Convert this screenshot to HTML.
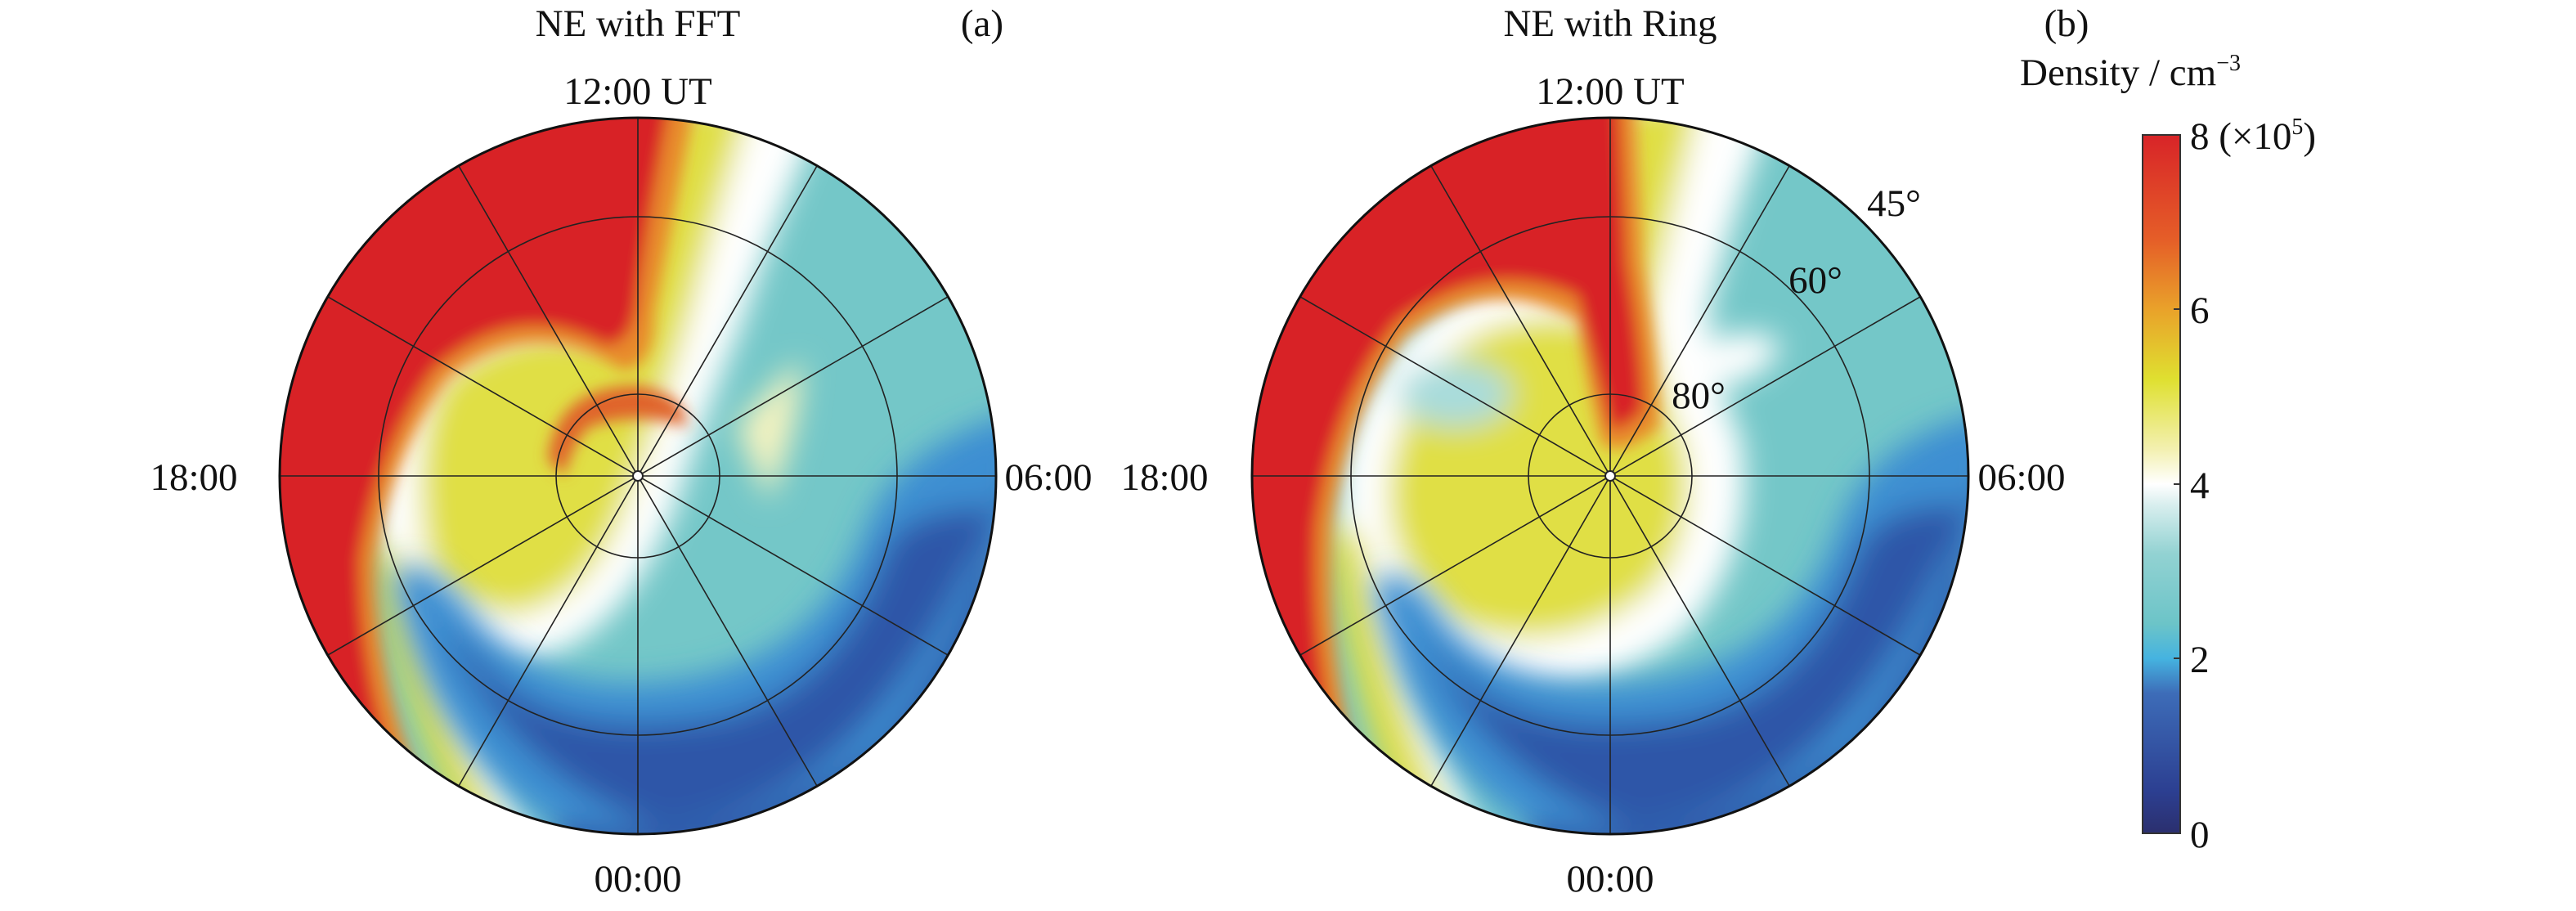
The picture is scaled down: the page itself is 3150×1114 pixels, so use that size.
<!DOCTYPE html>
<html><head><meta charset="utf-8"><style>
html,body{margin:0;padding:0;background:#fff;}
svg{display:block;}
text{font-family:"Liberation Serif",serif;fill:#111;}
</style></head><body>
<svg width="3150" height="1114" viewBox="0 0 3150 1114" xmlns="http://www.w3.org/2000/svg">
<defs>
<filter id="b" x="-20%" y="-20%" width="140%" height="140%"><feGaussianBlur stdDeviation="18"/></filter>
<filter id="b2" x="-20%" y="-20%" width="140%" height="140%"><feGaussianBlur stdDeviation="9"/></filter>
<clipPath id="cc"><circle cx="0" cy="0" r="438"/></clipPath>
<linearGradient id="cb" x1="0" y1="1" x2="0" y2="0">
<stop offset="0" stop-color="#2b2f6e"/>
<stop offset="0.06" stop-color="#2c3f91"/>
<stop offset="0.2" stop-color="#3d6cb8"/>
<stop offset="0.25" stop-color="#45b3e0"/>
<stop offset="0.3" stop-color="#6cc4c8"/>
<stop offset="0.4" stop-color="#92d2d2"/>
<stop offset="0.47" stop-color="#d8eeee"/>
<stop offset="0.5" stop-color="#ffffff"/>
<stop offset="0.55" stop-color="#f3f0b0"/>
<stop offset="0.65" stop-color="#dfe030"/>
<stop offset="0.75" stop-color="#e9a22a"/>
<stop offset="0.85" stop-color="#e55e28"/>
<stop offset="1" stop-color="#d82428"/>
</linearGradient>
</defs>

<!-- Panel a -->
<g transform="translate(780,582)">
<g clip-path="url(#cc)">
<rect x="-460" y="-460" width="920" height="920" fill="#74c7c8"/>
<g filter="url(#b)">
<path d="M -40 -460 L 200 -460 Q 130 -300 100 -200 Q 50 -80 20 20 Q -40 180 -150 200 Q -270 190 -290 100 Q -310 -60 -250 -140 Q -150 -220 -40 -180 Z" fill="#ffffff" stroke="#ffffff" stroke-width="60"/>
<path d="M -40 -460 L 140 -460 Q 90 -300 65 -200 Q 30 -80 -10 20 Q -50 150 -150 170 Q -250 160 -260 90 Q -280 -50 -240 -120 Q -150 -200 -40 -170 Z" fill="#e0df45"/>
<path d="M -330 80 Q -300 250 -180 460 L -120 460 Q -220 260 -260 120 Z" fill="#ffffff"/>
<path d="M -330 60 Q -310 250 -200 460 L -150 460 Q -250 260 -290 100 Z" fill="#e0df45"/>
<path d="M 120 -60 Q 180 -130 200 -140 Q 200 -60 160 30 Z" fill="#f4f3c0"/>
</g>
<g filter="url(#b2)">
<path d="M -460 -460 L 70 -460 Q 40 -300 20 -200 Q 20 -130 -20 -130 Q -130 -200 -230 -120 Q -300 -30 -320 100 Q -320 300 -220 460 L -460 460 Z" fill="#e88a2a"/>
<path d="M -460 -460 L 40 -460 Q 10 -300 0 -220 Q -5 -160 -40 -160 Q -150 -220 -250 -130 Q -320 -30 -340 100 Q -340 300 -250 460 L -460 460 Z" fill="#d82428"/>
<path d="M -110 -20 Q -100 -110 0 -110 Q 60 -100 60 -60 Q 0 -80 -60 -60 Q -80 -40 -90 0 Z" fill="#e0642a"/>
</g>
<g filter="url(#b)">
<path d="M -300 120 Q -250 380 -20 470 Q 300 470 470 60 L 470 -80 Q 320 -40 280 60 Q 220 230 40 250 Q -120 270 -200 170 Q -260 90 -300 120 Z" fill="#3e8fd2"/>
<path d="M -240 180 Q -160 360 20 430 Q 250 420 400 120 Q 460 20 470 -30 L 470 40 Q 320 30 300 100 Q 230 290 60 300 Q -120 320 -200 220 Z" fill="#2f56a8"/>
<path d="M -100 420 Q 100 470 300 330 Q 400 200 440 60 L 470 470 L -100 470 Z" fill="#2f56a8"/>
</g>
</g>
<g fill="none" stroke="#222" stroke-width="1.6">
<circle r="100"/><circle r="317"/>
<line x1="0" y1="-438" x2="0" y2="438"/>
<line x1="-438" y1="0" x2="438" y2="0"/>
<line x1="-219" y1="-379" x2="219" y2="379"/>
<line x1="219" y1="-379" x2="-219" y2="379"/>
<line x1="-379" y1="-219" x2="379" y2="219"/>
<line x1="379" y1="-219" x2="-379" y2="219"/>
</g>
<circle r="438" fill="none" stroke="#111" stroke-width="3"/>
<circle r="6" fill="#fff" stroke="#222" stroke-width="2"/>
</g>
<g font-size="47" text-anchor="middle">
<text x="780" y="44">NE with FFT</text>
<text x="1201" y="44">(a)</text>
<text x="780" y="127">12:00 UT</text>
<text x="237" y="599">18:00</text>
<text x="1282" y="599">06:00</text>
<text x="780" y="1090">00:00</text>
</g>

<!-- Panel b -->
<g transform="translate(1969,582)">
<g clip-path="url(#cc)">
<rect x="-460" y="-460" width="920" height="920" fill="#74c7c8"/>
<g filter="url(#b)">
<path d="M 0 -460 L 170 -460 Q 110 -300 90 -200 Q 100 -100 130 -40 Q 150 80 70 170 Q -60 270 -200 210 Q -310 120 -300 0 Q -280 -140 -150 -210 Q -60 -240 0 -210 Z" fill="#ffffff" stroke="#ffffff" stroke-width="60"/>
<path d="M 0 -460 L 110 -460 Q 70 -300 50 -200 Q 60 -100 90 -40 Q 110 70 50 140 Q -60 230 -190 180 Q -280 110 -270 0 Q -250 -130 -150 -180 Q -60 -210 0 -180 Z" fill="#e0df45"/>
<ellipse cx="-190" cy="-100" rx="70" ry="40" fill="#a8dcdc"/>
<path d="M -350 60 Q -320 260 -220 460 L -150 460 Q -240 260 -280 100 Z" fill="#ffffff"/>
<path d="M -350 40 Q -330 250 -240 460 L -180 460 Q -270 260 -300 80 Z" fill="#e0df45"/>
<path d="M 120 -160 Q 170 -190 210 -160 Q 190 -120 140 -110 Z" fill="#ffffff"/>
</g>
<g filter="url(#b2)">
<path d="M -460 -460 L 30 -460 L 40 -260 Q 60 -140 60 -60 Q 10 -20 -10 -40 Q -30 -120 -40 -190 Q -150 -250 -250 -170 Q -320 -80 -340 60 Q -350 280 -270 460 L -460 460 Z" fill="#e88a2a"/>
<path d="M -460 -460 L 10 -460 L 20 -260 Q 40 -140 40 -80 Q 10 -50 0 -60 Q -20 -140 -40 -220 Q -150 -270 -260 -190 Q -340 -90 -360 60 Q -370 280 -290 460 L -460 460 Z" fill="#d82428"/>
</g>
<g filter="url(#b)">
<path d="M -290 130 Q -240 380 -20 470 Q 300 470 470 60 L 470 -80 Q 320 -50 280 60 Q 220 230 40 250 Q -120 270 -200 180 Q -250 100 -290 130 Z" fill="#3e8fd2"/>
<path d="M -230 190 Q -160 360 20 430 Q 250 420 400 120 Q 460 20 470 -30 L 470 40 Q 330 20 300 100 Q 230 290 60 300 Q -120 320 -200 230 Z" fill="#2f56a8"/>
<path d="M -100 420 Q 100 470 300 330 Q 400 200 440 60 L 470 470 L -100 470 Z" fill="#2f56a8"/>
</g>
</g>
<g fill="none" stroke="#222" stroke-width="1.6">
<circle r="100"/><circle r="317"/>
<line x1="0" y1="-438" x2="0" y2="438"/>
<line x1="-438" y1="0" x2="438" y2="0"/>
<line x1="-219" y1="-379" x2="219" y2="379"/>
<line x1="219" y1="-379" x2="-219" y2="379"/>
<line x1="-379" y1="-219" x2="379" y2="219"/>
<line x1="379" y1="-219" x2="-379" y2="219"/>
</g>
<circle r="438" fill="none" stroke="#111" stroke-width="3"/>
<circle r="6" fill="#fff" stroke="#222" stroke-width="2"/>
</g>
<g font-size="47" text-anchor="middle">
<text x="1969" y="44">NE with Ring</text>
<text x="1969" y="127">12:00 UT</text>
<text x="1424" y="599">18:00</text>
<text x="2472" y="599">06:00</text>
<text x="1969" y="1090">00:00</text>
<text x="2316" y="264">45°</text>
<text x="2220" y="358">60°</text>
<text x="2077" y="499">80°</text>
<text x="2527" y="44">(b)</text>
</g>

<!-- Colorbar -->
<text x="2470" y="104" font-size="47">Density / cm<tspan font-size="28" dy="-18">−3</tspan></text>
<rect x="2620" y="165" width="46" height="854" fill="url(#cb)" stroke="#333" stroke-width="2"/>
<g stroke="#333" stroke-width="2">
<line x1="2658" y1="378" x2="2666" y2="378"/>
<line x1="2658" y1="592" x2="2666" y2="592"/>
<line x1="2658" y1="805" x2="2666" y2="805"/>
</g>
<g font-size="47">
<text x="2678" y="182">8 (×10<tspan font-size="28" dy="-18">5</tspan><tspan dy="18">)</tspan></text>
<text x="2678" y="395">6</text>
<text x="2678" y="609">4</text>
<text x="2678" y="822">2</text>
<text x="2678" y="1036">0</text>
</g>
</svg>
</body></html>
